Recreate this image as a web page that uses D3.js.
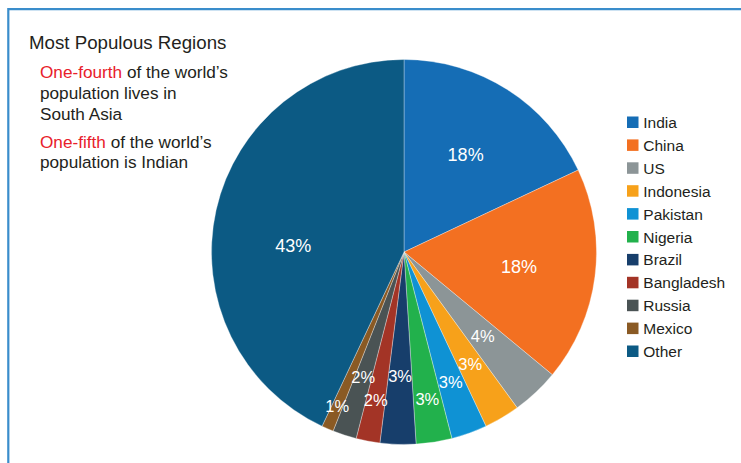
<!DOCTYPE html>
<html>
<head>
<meta charset="utf-8">
<script src="https://cdn.jsdelivr.net/npm/d3@7"></script>
<style>
  html, body { margin: 0; padding: 0; background: #fff; }
  svg { display: block; font-family: "Liberation Sans", Arial, Helvetica, sans-serif; }
</style>
</head>
<body>
<svg id="chart" width="741" height="463"></svg>
<script>
// Share of world population, by country / region
const regions = ["India", "China", "US", "Indonesia", "Pakistan", "Nigeria",
                 "Brazil", "Bangladesh", "Russia", "Mexico", "Other"];
const shares = [18, 18, 4, 3, 3, 3, 3, 2, 2, 1, 43];
const sliceColors = ["#156db5", "#f37021", "#8c9597", "#f7a11a", "#0f92d4", "#22b14c",
                     "#173e6b", "#a33426", "#4a5354", "#8a5a24", "#0c5a84"];

// Label placement for each slice: distance from centre and angular nudge (degrees)
const labelRadius = [115, 116, 115, 130, 138, 149, 124, 151, 132, 168, 111];
const labelNudge  = [0, 0, 0, 0, 0, 0, 0, 0, 0, 0, -9];

const svg = d3.select("#chart");
const W = 741, H = 463;

// Frame
svg.append("path")
  .attr("d", `M8.3,${H + 5} V9.2 H${W + 5}`)
  .attr("fill", "none")
  .attr("stroke", "#3a8dcb")
  .attr("stroke-width", 2.2);

// Side notes
const notes = svg.append("g").attr("fill", "#231f20");
notes.append("text").attr("x", 29).attr("y", 49)
  .attr("font-size", 18.7).text("Most Populous Regions");

const noteLines = [
  { y: 78,  parts: [["One-fourth", true], [" of the world\u2019s", false]] },
  { y: 99,  parts: [["population lives in", false]] },
  { y: 120, parts: [["South Asia", false]] },
  { y: 148, parts: [["One-fifth", true], [" of the world\u2019s", false]] },
  { y: 168, parts: [["population is Indian", false]] }
];
noteLines.forEach(l => {
  const t = notes.append("text").attr("x", 40).attr("y", l.y).attr("font-size", 17.2);
  l.parts.forEach(([s, red]) => {
    t.append("tspan").attr("fill", red ? "#e8202a" : "#231f20").text(s);
  });
});

// Pie
const cx = 404, cy = 252, R = 192.5;
const pie = d3.pie().sort(null).value(d => d.v);
const data = regions.map((name, i) => ({ name, v: shares[i], i }));
const arcs = pie(data);
const arc = d3.arc().innerRadius(0).outerRadius(R);

const g = svg.append("g").attr("transform", `translate(${cx},${cy})`);
g.selectAll("path.slice")
  .data(arcs)
  .join("path")
  .attr("class", "slice")
  .attr("d", arc)
  .attr("fill", d => sliceColors[d.data.i])
  .attr("stroke", "rgba(255,255,255,0.55)")
  .attr("stroke-width", 0.6);

g.selectAll("text.pct")
  .data(arcs)
  .join("text")
  .attr("class", "pct")
  .attr("transform", d => {
    const a = (d.startAngle + d.endAngle) / 2 + labelNudge[d.data.i] * Math.PI / 180;
    const r = labelRadius[d.data.i];
    return `translate(${r * Math.sin(a)},${-r * Math.cos(a)})`;
  })
  .attr("text-anchor", "middle")
  .attr("dy", "0.36em")
  .attr("fill", "#fff")
  .attr("font-size", d => d.data.v >= 10 ? 18 : 16.5)
  .text(d => d.data.v + "%");

// Legend
const legendY = d3.scalePoint().domain(regions).range([122.5, 351.5]);
const lg = svg.append("g");
const items = lg.selectAll("g").data(regions).join("g")
  .attr("transform", d => `translate(627,${legendY(d)})`);
items.append("rect")
  .attr("x", 0).attr("y", -6).attr("width", 11.5).attr("height", 11.5)
  .attr("fill", (d, i) => sliceColors[i]);
items.append("text")
  .attr("x", 16.3).attr("dy", "0.36em")
  .attr("font-size", 15.5).attr("fill", "#231f20")
  .text(d => d);
</script>
</body>
</html>
